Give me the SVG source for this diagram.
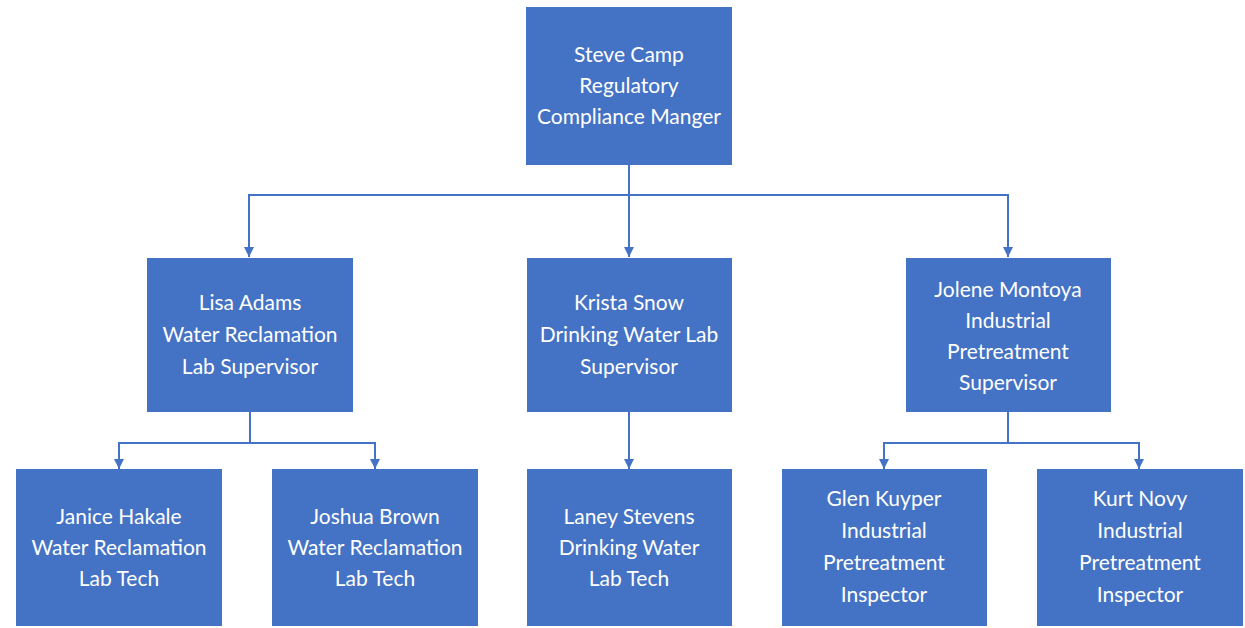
<svg xmlns="http://www.w3.org/2000/svg" width="1245" height="628" viewBox="0 0 1245 628">
<defs>
<style>
.box{fill:#4472C4;}
.t{fill:#fff;font-family:Lato,"Open Sans",sans-serif;font-size:21px;text-anchor:middle;}
.c{fill:none;stroke:#4472C4;stroke-width:2;}
</style>
<marker id="ah" viewBox="0 0 10 10" refX="10" refY="5" markerWidth="10" markerHeight="10" markerUnits="userSpaceOnUse" orient="auto">
<path d="M0,0 L10,5 L0,10 Z" fill="#4472C4"/>
</marker>
</defs>
<rect width="1245" height="628" fill="#fff"/>
<g id="connectors">
<path class="c" d="M629,165 V195 H249 V257" marker-end="url(#ah)"/>
<path class="c" d="M629,195 V257" marker-end="url(#ah)"/>
<path class="c" d="M629,195 H1008 V257" marker-end="url(#ah)"/>
<path class="c" d="M250,412 V443 H119 V469" marker-end="url(#ah)"/>
<path class="c" d="M250,443 H375 V469" marker-end="url(#ah)"/>
<path class="c" d="M629,412 V469" marker-end="url(#ah)"/>
<path class="c" d="M1008,412 V443 H884 V469" marker-end="url(#ah)"/>
<path class="c" d="M1008,443 H1139 V469" marker-end="url(#ah)"/>
</g>
<g id="steve">
<rect class="box" x="526" y="7" width="206" height="158"/>
<text class="t" x="629" y="62">Steve Camp</text>
<text class="t" x="629" y="93">Regulatory</text>
<text class="t" x="629" y="124">Compliance Manger</text>
</g>
<g id="lisa">
<rect class="box" x="147" y="258" width="206" height="154"/>
<text class="t" x="250" y="310">Lisa Adams</text>
<text class="t" x="250" y="342">Water Reclamation</text>
<text class="t" x="250" y="374">Lab Supervisor</text>
</g>
<g id="krista">
<rect class="box" x="527" y="258" width="205" height="154"/>
<text class="t" x="629" y="310">Krista Snow</text>
<text class="t" x="629" y="342">Drinking Water Lab</text>
<text class="t" x="629" y="374">Supervisor</text>
</g>
<g id="jolene">
<rect class="box" x="906" y="258" width="205" height="154"/>
<text class="t" x="1008" y="297">Jolene Montoya</text>
<text class="t" x="1008" y="328">Industrial</text>
<text class="t" x="1008" y="359">Pretreatment</text>
<text class="t" x="1008" y="390">Supervisor</text>
</g>
<g id="janice">
<rect class="box" x="16" y="469" width="206" height="157"/>
<text class="t" x="119" y="524">Janice Hakale</text>
<text class="t" x="119" y="555">Water Reclamation</text>
<text class="t" x="119" y="586">Lab Tech</text>
</g>
<g id="joshua">
<rect class="box" x="272" y="469" width="206" height="157"/>
<text class="t" x="375" y="524">Joshua Brown</text>
<text class="t" x="375" y="555">Water Reclamation</text>
<text class="t" x="375" y="586">Lab Tech</text>
</g>
<g id="laney">
<rect class="box" x="527" y="469" width="205" height="157"/>
<text class="t" x="629" y="524">Laney Stevens</text>
<text class="t" x="629" y="555">Drinking Water</text>
<text class="t" x="629" y="586">Lab Tech</text>
</g>
<g id="glen">
<rect class="box" x="782" y="469" width="205" height="157"/>
<text class="t" x="884" y="506">Glen Kuyper</text>
<text class="t" x="884" y="538">Industrial</text>
<text class="t" x="884" y="570">Pretreatment</text>
<text class="t" x="884" y="602">Inspector</text>
</g>
<g id="kurt">
<rect class="box" x="1037" y="469" width="206" height="157"/>
<text class="t" x="1140" y="506">Kurt Novy</text>
<text class="t" x="1140" y="538">Industrial</text>
<text class="t" x="1140" y="570">Pretreatment</text>
<text class="t" x="1140" y="602">Inspector</text>
</g>
</svg>
